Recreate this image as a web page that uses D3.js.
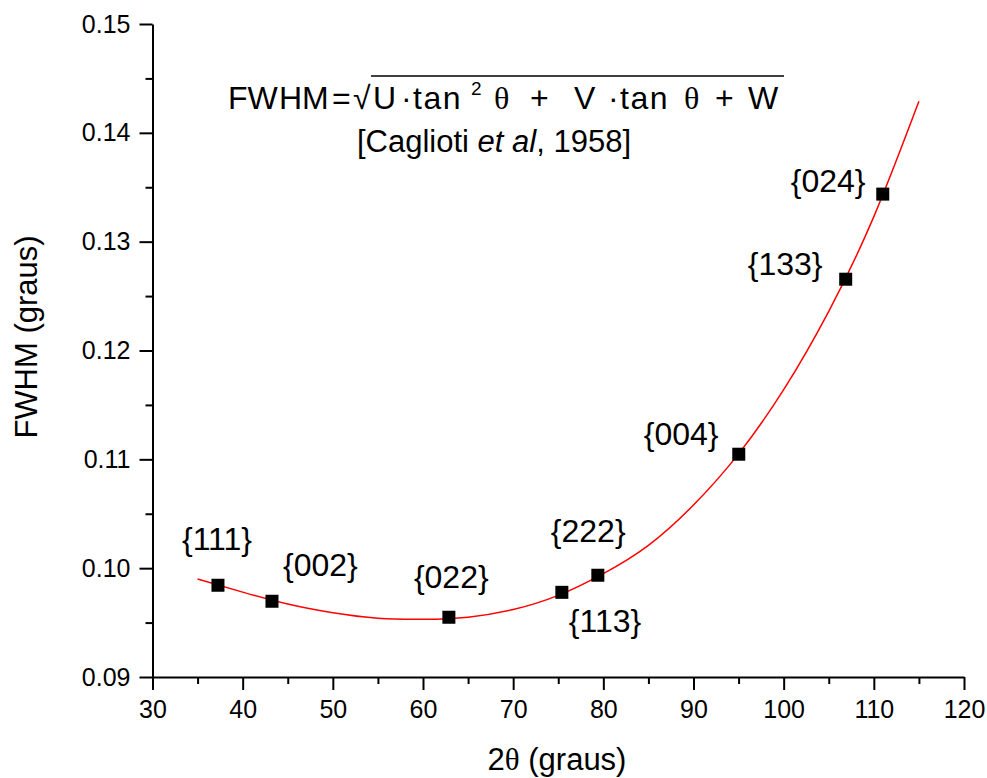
<!DOCTYPE html>
<html>
<head>
<meta charset="utf-8">
<script src="https://cdn.jsdelivr.net/npm/d3@7"></script>
<style>
  body { margin: 0; background: #fff; }
  svg { display: block; font-family: "Liberation Sans", Arial, sans-serif; }
  .axis path, .axis line { stroke: #000; stroke-width: 2; }
  .axis text { font-size: 25px; fill: #000; font-family: "Liberation Sans", Arial, sans-serif; }
</style>
</head>
<body>
<svg width="987" height="778"></svg>
<script>
// measured peaks
const planes = ['{111}', '{002}', '{022}', '{113}', '{222}', '{004}', '{133}', '{024}'];
const twoTheta = [37.26, 43.25, 62.87, 75.40, 79.39, 95.02, 106.88, 110.99];
const fwhm = [0.09843, 0.09696, 0.09549, 0.09778, 0.09935, 0.11047, 0.12655, 0.13437];

// Caglioti fit
const fitX = [35, 40, 45, 50, 55, 60, 65, 70, 75, 80, 85, 90, 95, 100, 105, 110, 115];
const fitY = [0.0990, 0.0978, 0.0967, 0.0959, 0.0954, 0.0953, 0.0955, 0.0962, 0.0975, 0.0995,
              0.1021, 0.1058, 0.1105, 0.1164, 0.1236, 0.1323, 0.1429];

const xTicks = [30, 40, 50, 60, 70, 80, 90, 100, 110, 120];
const yTicks = [0.09, 0.10, 0.11, 0.12, 0.13, 0.14, 0.15];

// label offsets from the marker (px)
const labelOffset = [[-36, -35], [11, -25], [-35, -29], [7, 40], [-47, -33], [-95, -9], [-98, -4], [-92, -2]];

const margin = { left: 152.5, right: 23, top: 24, bottom: 101 };
const svg = d3.select('svg');
const width = +svg.attr('width');
const height = +svg.attr('height');
const innerWidth = width - margin.left - margin.right;
const innerHeight = height - margin.top - margin.bottom;
const g = svg.append('g')
  .attr('transform', `translate(${margin.left},${margin.top})`);

const xScale = d3.scaleLinear().domain([30, 120]).range([0, innerWidth]);
const yScale = d3.scaleLinear().domain([0.09, 0.15]).range([innerHeight, 0]);

// minor ticks first (no labels)
const xMinor = g.append('g')
  .attr('class', 'axis')
  .attr('transform', `translate(0,${innerHeight})`)
  .call(d3.axisBottom(xScale).tickValues(d3.range(35, 120, 10)).tickSize(7));
xMinor.select('.domain').remove();
xMinor.selectAll('text').remove();
const yMinor = g.append('g')
  .attr('class', 'axis')
  .call(d3.axisLeft(yScale).tickValues(d3.range(0.095, 0.15, 0.01)).tickSize(7));
yMinor.select('.domain').remove();
yMinor.selectAll('text').remove();

const xAxisG = g.append('g')
  .attr('class', 'axis')
  .attr('transform', `translate(0,${innerHeight})`)
  .call(d3.axisBottom(xScale).tickValues(xTicks).tickSize(13).tickSizeOuter(0).tickPadding(10));
xAxisG.selectAll('text').attr('dy', '0.71em');

const yAxisG = g.append('g')
  .attr('class', 'axis')
  .call(d3.axisLeft(yScale).tickValues(yTicks).tickSize(13).tickSizeOuter(0).tickPadding(9)
    .tickFormat(d3.format('.2f')));

// fit line
const line = d3.line()
  .x((d, i) => xScale(fitX[i]))
  .y(d => yScale(d))
  .curve(d3.curveNatural);
g.append('path')
  .datum(fitY)
  .attr('d', line)
  .attr('fill', 'none')
  .attr('stroke', '#ff0000')
  .attr('stroke-width', 1.5);

// markers
const pts = g.selectAll('g.pt')
  .data(planes)
  .enter().append('g')
  .attr('class', 'pt')
  .attr('transform', (d, i) => `translate(${xScale(twoTheta[i])},${yScale(fwhm[i])})`);

pts.append('rect')
  .attr('x', -6.5).attr('y', -6.5)
  .attr('width', 13).attr('height', 13)
  .attr('fill', '#000');

pts.append('text')
  .attr('x', (d, i) => labelOffset[i][0])
  .attr('y', (d, i) => labelOffset[i][1])
  .attr('font-size', 32)
  .text(d => d);

// axis titles
svg.append('text')
  .attr('x', 557)
  .attr('y', 770)
  .attr('text-anchor', 'middle')
  .attr('font-size', 31)
  .call(t => {
    t.append('tspan').text('2');
    t.append('tspan').attr('font-family', '"Liberation Serif", serif').text('θ');
    t.append('tspan').text(' (graus)');
  });

svg.append('text')
  .attr('transform', `translate(37,337) rotate(-90)`)
  .attr('text-anchor', 'middle')
  .attr('font-size', 31)
  .text('FWHM (graus)');

// Caglioti equation: one text, tokens placed as tspans
const serif = '"Liberation Serif", serif';
const eqTokens = [
  { t: 'FW', x: 228 },
  { t: 'HM', x: 279 },
  { t: '=', x: 332 },
  { t: '√', x: 353 },
  { t: 'U', x: 373 },
  { t: '·', x: 401 },
  { t: 'tan', x: 413, ls: 1.5 },
  { t: '2', x: 471, fs: 19, up: true },
  { t: 'θ', x: 494, ff: serif },
  { t: '+', x: 530 },
  { t: 'V', x: 574 },
  { t: '·', x: 608 },
  { t: 'tan', x: 620, ls: 1.5 },
  { t: 'θ', x: 684, ff: serif },
  { t: '+', x: 715 },
  { t: 'W', x: 748 }
];
svg.append('text')
  .attr('y', 109)
  .attr('font-size', 32)
  .selectAll('tspan')
  .data(eqTokens)
  .enter().append('tspan')
  .attr('x', d => d.x)
  .attr('y', d => d.up ? 95 : 109)
  .attr('font-size', d => d.fs || null)
  .attr('letter-spacing', d => d.ls || null)
  .attr('font-family', d => d.ff || null)
  .text(d => d.t);

svg.append('line')
  .attr('x1', 371).attr('x2', 784)
  .attr('y1', 76).attr('y2', 76)
  .attr('stroke', '#000').attr('stroke-width', 1.5);

svg.append('text')
  .attr('x', 494)
  .attr('y', 152)
  .attr('text-anchor', 'middle')
  .attr('font-size', 31)
  .call(t => {
    t.append('tspan').text('[Caglioti ');
    t.append('tspan').attr('font-style', 'italic').text('et al');
    t.append('tspan').text(', 1958]');
  });
</script>
</body>
</html>
